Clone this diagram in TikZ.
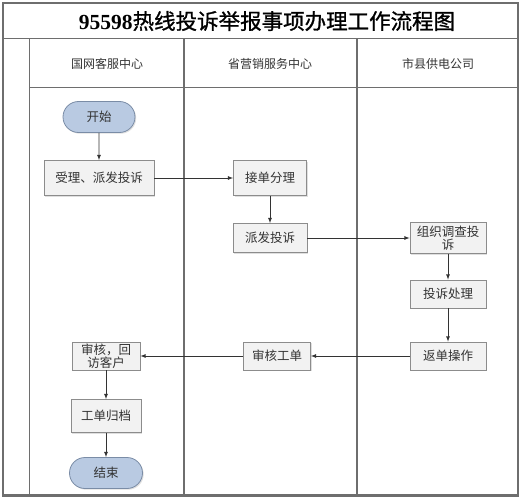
\documentclass[tikz,border=0pt]{standalone}
\usepackage{fontspec}
\setmainfont{Liberation Serif}
\newfontfamily\cjk{Noto Sans CJK SC}
\newfontfamily\cjktitle{Noto Sans CJK SC}[FakeBold=1]
\usetikzlibrary{shapes.misc,shadows}
\definecolor{frameline}{HTML}{6E6E6E}
\definecolor{boxline}{HTML}{8C8C8C}
\definecolor{boxfill}{HTML}{F2F2F2}
\definecolor{termline}{HTML}{7A8CA6}
\definecolor{termfill}{HTML}{B9CAE2}
\definecolor{textgray}{HTML}{333333}
\tikzset{
  box/.style={draw=boxline, fill=boxfill, line width=0.8pt, inner sep=1pt,
    minimum width=74pt, minimum height=29pt, align=center, text=textgray,
    font=\cjk\fontsize{12.5}{13}\selectfont,
    drop shadow={shadow xshift=1.2pt, shadow yshift=-1.2pt, opacity=0.25}},
  term/.style={box, rounded rectangle, draw=termline, fill=termfill},
  head/.style={text=textgray, font=\cjk\fontsize{12}{13}\selectfont},
  flow/.style={-latex, draw=textgray, line width=0.8pt},
}
\begin{document}
\begin{tikzpicture}[x=1pt, y=-1pt]
        \useasboundingbox (0,0) rectangle (522,500);
        \draw[frameline, line width=1.2pt] (3,3) rectangle (518,496);
        \draw[frameline, line width=1pt] (3,39) -- (518,39);
        \draw[frameline, line width=1pt] (29,39) -- (29,496);
        \draw[frameline, line width=1pt] (29,88) -- (518,88);
        \draw[frameline, line width=1.5pt] (184,39) -- (184,496);
        \draw[frameline, line width=1.5pt] (357,39) -- (357,496);
        \draw[frameline, line width=2pt] (3,495) -- (518,495);
        \node (title) at (267,21) {\fontsize{21.5}{24}\selectfont\textbf{95598}\cjktitle 热线投诉举报事项办理工作流程图};
        \node[head] (kf) at (107,64) {国网客服中心};
        \node[head] (yx) at (270,64) {省营销服务中心};
        \node[head] (gd) at (438,64) {市县供电公司};
        \node[term, minimum height=31pt] (start) at (99,117) {开始};
        \node[box, minimum width=110pt, minimum height=35pt] (accept) at (99,178) {受理、派发投诉};
        \node[box, minimum width=73pt, minimum height=35pt] (sort) at (270,178) {接单分理};
        \node[box] (send) at (270,238) {派发投诉};
        \node[box, minimum width=76pt, minimum height=31pt] (survey) at (448,238) {组织调查投\\诉};
        \node[box, minimum width=76pt, minimum height=28pt] (handle) at (448,294) {投诉处理};
        \node[box, minimum width=76pt, minimum height=28pt] (back) at (448,356) {返单操作};
        \node[box, minimum width=67pt, minimum height=28pt] (check) at (277,356) {审核工单};
        \node[box, minimum width=68pt, minimum height=28pt] (visit) at (106,356) {审核，回\\访客户};
        \node[box, minimum width=70pt, minimum height=33pt] (file) at (106,416) {工单归档};
        \node[term, minimum width=75pt, minimum height=31pt] (end) at (106,473) {结束};
        \draw[flow] (start) -- (accept);
        \draw[flow] (accept) -- (sort);
        \draw[flow] (sort) -- (send);
        \draw[flow] (send) -- (survey);
        \draw[flow] (survey) -- (handle);
        \draw[flow] (handle) -- (back);
        \draw[flow] (back) -- (check);
        \draw[flow] (check) -- (visit);
        \draw[flow] (visit) -- (file);
        \draw[flow] (file) -- (end);
      \end{tikzpicture}
\end{document}
